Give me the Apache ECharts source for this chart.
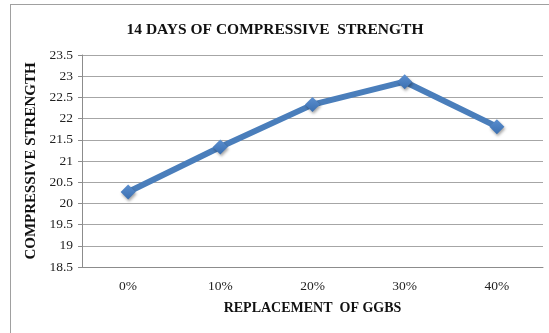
<!DOCTYPE html>
<html>
<head>
<meta charset="utf-8">
<script src="https://cdn.jsdelivr.net/npm/echarts@6/dist/echarts.min.js"></script>
<style>
html,body{margin:0;padding:0;background:#fff;}
#border{position:absolute;left:10px;top:4px;width:560px;height:360px;border:1px solid #a0a0a0;box-sizing:border-box;}
#chart{position:absolute;left:0;top:0;width:549px;height:333px;}
</style>
</head>
<body>
<div id="border"></div>
<div id="chart"></div>
<script>
const categories = ['0%', '10%', '20%', '30%', '40%'];
const strengthValues = [20.27, 21.33, 22.33, 22.87, 21.81];
const yMin = 18.5, yMax = 23.5, yStep = 0.5;

const chart = echarts.init(document.getElementById('chart'), null, {renderer: 'canvas'});
const serif = '"Liberation Serif", "DejaVu Serif", serif';
chart.setOption({
  backgroundColor: 'transparent',
  animation: false,
  title: {
    text: '14 DAYS OF COMPRESSIVE  STRENGTH',
    left: 270, top: 17, textAlign: 'center',
    textStyle: {fontFamily: serif, fontWeight: 'bold', fontSize: 15.5, color: '#111'}
  },
  grid: {left: 82, right: 6, top: 55, bottom: 66, containLabel: false},
  xAxis: {
    type: 'category',
    data: categories,
    boundaryGap: true,
    name: 'REPLACEMENT  OF GGBS',
    nameLocation: 'middle',
    nameGap: 34,
    nameTextStyle: {fontFamily: serif, fontWeight: 'bold', fontSize: 14, color: '#111'},
    axisLine: {lineStyle: {color: '#8c8c8c', width: 1}},
    axisTick: {show: false},
    axisLabel: {fontFamily: serif, fontSize: 13.5, color: '#222', margin: 12}
  },
  yAxis: {
    type: 'value',
    min: yMin, max: yMax, interval: yStep,
    name: 'COMPRESSIVE STRENGTH',
    nameLocation: 'middle',
    nameGap: 41,
    nameRotate: 90,
    nameTextStyle: {fontFamily: serif, fontWeight: 'bold', fontSize: 15, color: '#111'},
    axisLine: {show: true, lineStyle: {color: '#8c8c8c', width: 1}},
    axisTick: {show: true, length: 4, lineStyle: {color: '#8c8c8c'}},
    axisLabel: {fontFamily: serif, fontSize: 13.5, color: '#222', margin: 9},
    splitLine: {lineStyle: {color: '#a6a6a6', width: 1}}
  },
  series: [{
    type: 'line',
    data: strengthValues,
    symbol: 'diamond',
    symbolSize: 15,
    lineStyle: {color: '#4a7ebb', width: 6},
    itemStyle: {
      color: new echarts.graphic.LinearGradient(0, 0, 0, 1, [
        {offset: 0, color: '#5b8fd0'}, {offset: 1, color: '#3b6fb0'}
      ]),
      shadowColor: 'rgba(0,0,0,0.35)', shadowBlur: 3, shadowOffsetX: 1, shadowOffsetY: 2
    }
  }]
});
</script>
</body>
</html>
